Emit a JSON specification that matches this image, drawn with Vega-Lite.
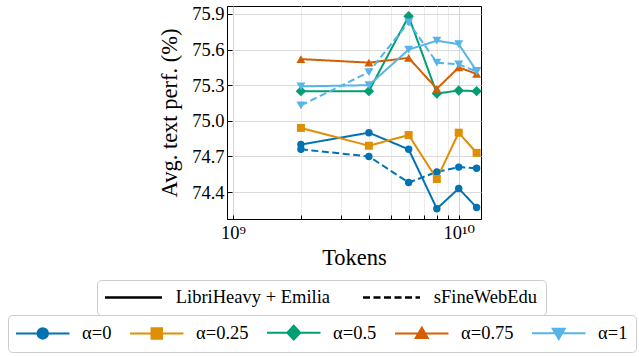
{
  "$schema": "https://vega.github.io/schema/vega-lite/v6.json",
  "width": 254,
  "height": 213,
  "autosize": {"type": "none"},
  "padding": {"left": 227, "top": 6, "right": 158, "bottom": 138},
  "background": "white",
  "config": {
    "font": "Liberation Serif",
    "view": {"stroke": "#000000", "strokeWidth": 1},
    "axis": {
      "labelFont": "Liberation Serif",
      "titleFont": "Liberation Serif",
      "labelColor": "#000000",
      "titleColor": "#000000",
      "titleFontWeight": "normal",
      "domainColor": "#000000",
      "tickColor": "#000000",
      "labelFontSize": 18.5,
      "titleFontSize": 22.5
    }
  },
  "data": {
    "values": [
      {"tokens": 2e9, "alpha": "α=0", "dataset": "LibriHeavy + Emilia", "perf": 74.80},
      {"tokens": 4e9, "alpha": "α=0", "dataset": "LibriHeavy + Emilia", "perf": 74.90},
      {"tokens": 6e9, "alpha": "α=0", "dataset": "LibriHeavy + Emilia", "perf": 74.76},
      {"tokens": 8e9, "alpha": "α=0", "dataset": "LibriHeavy + Emilia", "perf": 74.26},
      {"tokens": 1e10, "alpha": "α=0", "dataset": "LibriHeavy + Emilia", "perf": 74.43},
      {"tokens": 1.2e10, "alpha": "α=0", "dataset": "LibriHeavy + Emilia", "perf": 74.27},
      {"tokens": 2e9, "alpha": "α=0", "dataset": "sFineWebEdu", "perf": 74.76},
      {"tokens": 4e9, "alpha": "α=0", "dataset": "sFineWebEdu", "perf": 74.70},
      {"tokens": 6e9, "alpha": "α=0", "dataset": "sFineWebEdu", "perf": 74.48},
      {"tokens": 8e9, "alpha": "α=0", "dataset": "sFineWebEdu", "perf": 74.57},
      {"tokens": 1e10, "alpha": "α=0", "dataset": "sFineWebEdu", "perf": 74.61},
      {"tokens": 1.2e10, "alpha": "α=0", "dataset": "sFineWebEdu", "perf": 74.60},
      {"tokens": 2e9, "alpha": "α=0.25", "dataset": "LibriHeavy + Emilia", "perf": 74.94},
      {"tokens": 4e9, "alpha": "α=0.25", "dataset": "LibriHeavy + Emilia", "perf": 74.79},
      {"tokens": 6e9, "alpha": "α=0.25", "dataset": "LibriHeavy + Emilia", "perf": 74.88},
      {"tokens": 8e9, "alpha": "α=0.25", "dataset": "LibriHeavy + Emilia", "perf": 74.51},
      {"tokens": 1e10, "alpha": "α=0.25", "dataset": "LibriHeavy + Emilia", "perf": 74.90},
      {"tokens": 1.2e10, "alpha": "α=0.25", "dataset": "LibriHeavy + Emilia", "perf": 74.73},
      {"tokens": 2e9, "alpha": "α=0.5", "dataset": "LibriHeavy + Emilia", "perf": 75.25},
      {"tokens": 4e9, "alpha": "α=0.5", "dataset": "LibriHeavy + Emilia", "perf": 75.25},
      {"tokens": 6e9, "alpha": "α=0.5", "dataset": "LibriHeavy + Emilia", "perf": 75.88},
      {"tokens": 8e9, "alpha": "α=0.5", "dataset": "LibriHeavy + Emilia", "perf": 75.23},
      {"tokens": 1e10, "alpha": "α=0.5", "dataset": "LibriHeavy + Emilia", "perf": 75.255},
      {"tokens": 1.2e10, "alpha": "α=0.5", "dataset": "LibriHeavy + Emilia", "perf": 75.25},
      {"tokens": 2e9, "alpha": "α=0.75", "dataset": "LibriHeavy + Emilia", "perf": 75.52},
      {"tokens": 4e9, "alpha": "α=0.75", "dataset": "LibriHeavy + Emilia", "perf": 75.49},
      {"tokens": 6e9, "alpha": "α=0.75", "dataset": "LibriHeavy + Emilia", "perf": 75.53},
      {"tokens": 8e9, "alpha": "α=0.75", "dataset": "LibriHeavy + Emilia", "perf": 75.27},
      {"tokens": 1e10, "alpha": "α=0.75", "dataset": "LibriHeavy + Emilia", "perf": 75.45},
      {"tokens": 1.2e10, "alpha": "α=0.75", "dataset": "LibriHeavy + Emilia", "perf": 75.395},
      {"tokens": 2e9, "alpha": "α=1", "dataset": "LibriHeavy + Emilia", "perf": 75.29},
      {"tokens": 4e9, "alpha": "α=1", "dataset": "LibriHeavy + Emilia", "perf": 75.30},
      {"tokens": 6e9, "alpha": "α=1", "dataset": "LibriHeavy + Emilia", "perf": 75.60},
      {"tokens": 8e9, "alpha": "α=1", "dataset": "LibriHeavy + Emilia", "perf": 75.675},
      {"tokens": 1e10, "alpha": "α=1", "dataset": "LibriHeavy + Emilia", "perf": 75.645},
      {"tokens": 1.2e10, "alpha": "α=1", "dataset": "LibriHeavy + Emilia", "perf": 75.42},
      {"tokens": 2e9, "alpha": "α=1", "dataset": "sFineWebEdu", "perf": 75.13},
      {"tokens": 4e9, "alpha": "α=1", "dataset": "sFineWebEdu", "perf": 75.41},
      {"tokens": 6e9, "alpha": "α=1", "dataset": "sFineWebEdu", "perf": 75.83},
      {"tokens": 8e9, "alpha": "α=1", "dataset": "sFineWebEdu", "perf": 75.49},
      {"tokens": 1e10, "alpha": "α=1", "dataset": "sFineWebEdu", "perf": 75.475},
      {"tokens": 1.2e10, "alpha": "α=1", "dataset": "sFineWebEdu", "perf": 75.415}
    ]
  },
  "encoding": {
    "x": {
      "field": "tokens",
      "type": "quantitative",
      "scale": {"type": "log", "domain": [9.41e8, 1.255e10], "nice": false},
      "axis": {
        "title": "Tokens",
        "values": [1e9, 2e9, 3e9, 4e9, 5e9, 6e9, 7e9, 8e9, 9e9, 1e10],
        "labelExpr": "datum.value == 1e9 ? '10⁹' : (datum.value == 1e10 ? '10¹⁰' : '')",
        "labelFont": "'Liberation Serif', 'DejaVu Serif', serif",
        "labelFlush": false,
        "labelOverlap": false,
        "labelPadding": 8,
        "tickSize": -4,
        "grid": true,
        "gridColor": {"expr": "(datum.value == 1e9 || datum.value == 1e10) ? '#d4d4d4' : '#ececec'"},
        "titlePadding": 5
      }
    },
    "y": {
      "field": "perf",
      "type": "quantitative",
      "scale": {"domain": [74.173, 75.967], "nice": false, "zero": false},
      "axis": {
        "title": "Avg. text perf. (%)",
        "values": [74.4, 74.7, 75.0, 75.3, 75.6, 75.9],
        "format": ".1f",
        "tickSize": -5,
        "labelPadding": 8,
        "grid": true,
        "gridColor": "#d9d9d9",
        "titlePadding": 10
      }
    },
    "color": {
      "field": "alpha",
      "type": "nominal",
      "scale": {
        "domain": ["α=0", "α=0.25", "α=0.5", "α=0.75", "α=1"],
        "range": ["#0173b2", "#de8f05", "#029e73", "#d55e00", "#56b4e9"]
      },
      "legend": {
        "title": null,
        "orient": "none",
        "legendX": -219,
        "legendY": 309,
        "direction": "horizontal",
        "columns": 5,
        "columnPadding": 14,
        "padding": 8,
        "strokeColor": "#cccccc",
        "fillColor": "#ffffff",
        "cornerRadius": 4,
        "labelFont": "Liberation Serif",
        "labelFontSize": 18.5,
        "labelColor": "#000000",
        "symbolSize": 100,
        "symbolStrokeWidth": 2,
        "symbolOffset": 17.5,
        "labelOffset": 30,
        "encode": {
          "symbols": {
            "update": {
              "shape": {"signal": "datum.value == 'α=0' ? 'M-5.35,0H5.35M1.05,0A1.05,1.05,0,1,1,-1.05,0A1.05,1.05,0,1,1,1.05,0Z' : datum.value == 'α=0.25' ? 'M-5.35,0H5.35M-1.05,-1.05H1.05V1.05H-1.05Z' : datum.value == 'α=0.5' ? 'M-5.35,0H5.35M0,-1.4L1.3,0L0,1.4L-1.3,0Z' : datum.value == 'α=0.75' ? 'M-5.35,0H5.35M0,-1.15L1.2,0.9L-1.2,0.9Z' : 'M-5.35,0H5.35M0,1.15L1.2,-0.9L-1.2,-0.9Z'"},
              "fill": {"signal": "scale('color', datum.value)"},
              "stroke": {"signal": "scale('color', datum.value)"},
              "strokeWidth": {"value": 2},
              "strokeDash": {"value": []},
              "opacity": {"value": 1}
            }
          }
        }
      }
    }
  },
  "layer": [
    {
      "mark": {"type": "line", "strokeWidth": 2},
      "encoding": {
        "strokeDash": {
          "field": "dataset",
          "type": "nominal",
          "scale": {
            "domain": ["LibriHeavy + Emilia", "sFineWebEdu"],
            "range": [[1, 0], [7, 3.5]]
          },
          "legend": {
            "title": null,
            "orient": "none",
            "legendX": -130,
            "legendY": 274,
            "direction": "horizontal",
            "columns": 2,
            "columnPadding": 27,
            "padding": 8,
            "strokeColor": "#cccccc",
            "fillColor": "#ffffff",
            "cornerRadius": 4,
            "labelFont": "Liberation Serif",
            "labelFontSize": 18.5,
            "labelColor": "#000000",
            "symbolSize": 100,
            "symbolType": "M-5.7,0H5.7",
            "symbolStrokeColor": "#000000",
            "symbolStrokeWidth": 2.5,
            "symbolOffset": 19.25,
            "labelOffset": 33
          }
        },
        "detail": {"field": "dataset"}
      }
    },
    {
      "transform": [{"filter": "datum.alpha == 'α=0'"}],
      "mark": {"type": "point", "filled": true, "opacity": 1, "shape": "circle", "size": 55}
    },
    {
      "transform": [{"filter": "datum.alpha == 'α=0.25'"}],
      "mark": {"type": "point", "filled": true, "opacity": 1, "shape": "square", "size": 64}
    },
    {
      "transform": [{"filter": "datum.alpha == 'α=0.5'"}],
      "mark": {"type": "point", "filled": true, "opacity": 1, "shape": "diamond", "size": 110}
    },
    {
      "transform": [{"filter": "datum.alpha == 'α=0.75'"}],
      "mark": {"type": "point", "filled": true, "opacity": 1, "shape": "triangle-up", "size": 80}
    },
    {
      "transform": [{"filter": "datum.alpha == 'α=1'"}],
      "mark": {"type": "point", "filled": true, "opacity": 1, "shape": "triangle-down", "size": 80}
    }
  ]
}
